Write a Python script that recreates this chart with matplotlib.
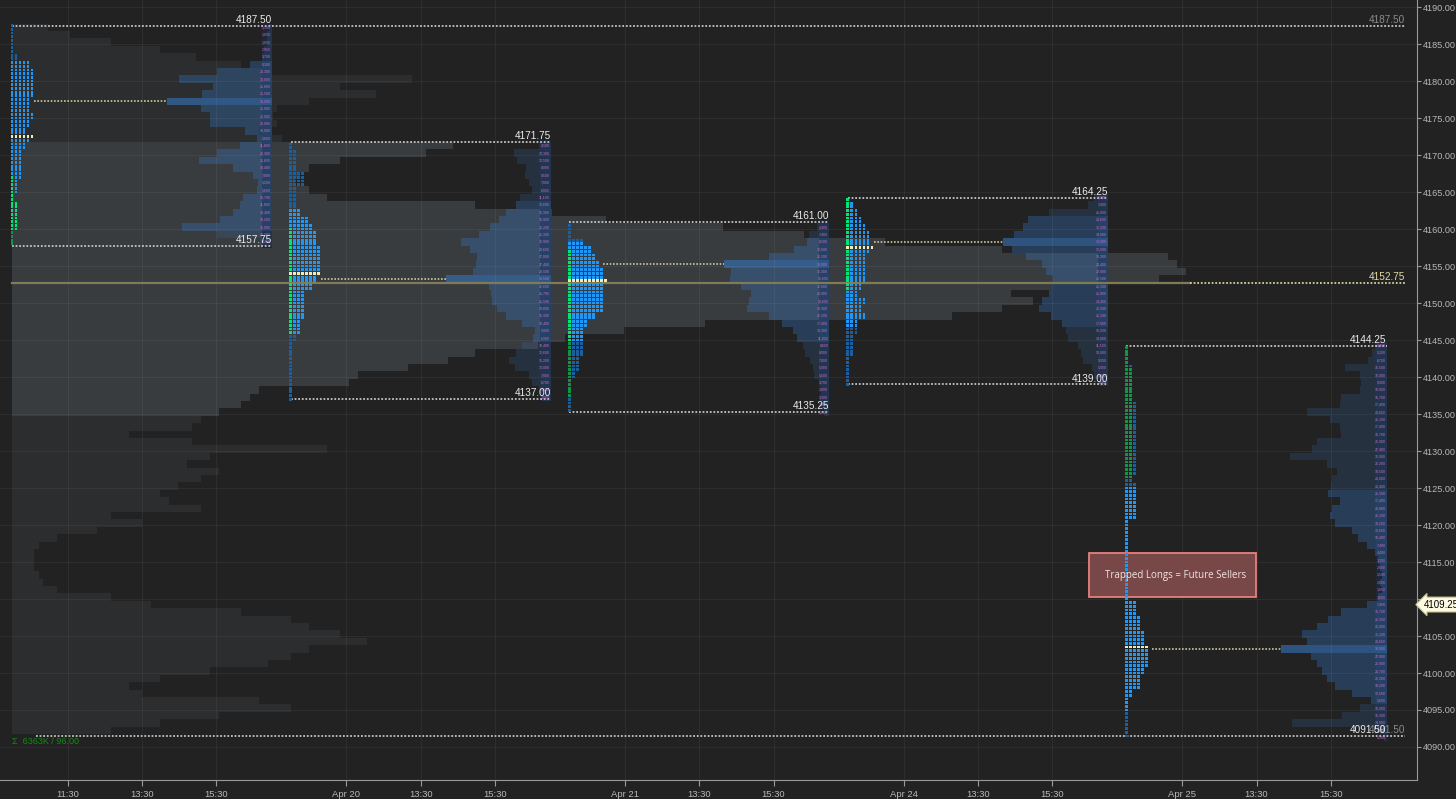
import matplotlib
matplotlib.use("Agg")
import matplotlib.pyplot as plt
from matplotlib import font_manager
from matplotlib.patches import Rectangle

# ---------------- data ----------------
# x = trading hours counted from the first session open; each session is 7.5 h
x_ticks = [1.5, 3.5, 5.5, 9.0, 11.0, 13.0, 16.5, 18.5, 20.5, 24.0, 26.0, 28.0, 31.5, 33.5, 35.5]
x_labels = ["11:30", "13:30", "15:30", "Apr 20", "13:30", "15:30", "Apr 21", "13:30", "15:30",
            "Apr 24", "13:30", "15:30", "Apr 25", "13:30", "15:30"]
y_ticks = [4090, 4095, 4100, 4105, 4110, 4115, 4120, 4125, 4130, 4135, 4140,
           4145, 4150, 4155, 4160, 4165, 4170, 4175, 4180, 4185, 4190]

day_start = [0.0, 7.5, 15.0, 22.5, 30.0]
day_high = [4187.50, 4171.75, 4161.00, 4164.25, 4144.25]
day_low = [4157.75, 4137.00, 4135.25, 4139.00, 4091.50]
tpo_poc = [4172.5, 4154.0, 4153.0, 4157.5, 4103.5]
tpo_poc_n = [6, 8, 10, 7, 6]
tpo_va = [(4160.0, 4182.5), (4146.0, 4162.5), (4145.0, 4158.0), (4147.0, 4164.25), (4095.0, 4125.0)]
vol_va = [(4160, 4182), (4145, 4163), (4145, 4158), (4147, 4161), (4096, 4124)]
# first-period (green) prints: (column, low, high)
tpo_green = [[(0, 4157.75, 4167.0), (1, 4159.5, 4163.5)],
             [(0, 4146.0, 4160.0)],
             [(0, 4137.5, 4157.0)],
             [(0, 4152.0, 4164.25)],
             [(0, 4126.5, 4144.25), (1, 4126.5, 4141.0)]]

# lowest whole-point level of each session (lists below go upward 1 pt per entry)
level_base = [4158, 4137, 4135, 4139, 4091]

tpo_apr19 = [1, 1, 2, 2, 2, 2, 1, 2, 2, 3, 3, 3, 3, 4, 5, 4, 5, 6, 5, 5, 6, 6, 6, 6, 5, 2, 1, 1, 1, 1]
tpo_apr20 = [1, 1, 1, 1, 1, 1, 1, 1, 2, 3, 3, 4, 4, 4, 4, 6, 7, 8, 8, 8, 8, 7, 7, 6, 5, 3, 2, 2, 2,
             4, 4, 2, 2, 2, 1]
tpo_apr21 = [1, 1, 1, 1, 1, 2, 3, 3, 4, 4, 4, 4, 5, 7, 9, 9, 9, 9, 9, 9, 8, 7, 6, 4, 1, 1]
tpo_apr24 = [1, 1, 1, 1, 2, 2, 2, 3, 3, 5, 4, 5, 3, 4, 5, 5, 5, 5, 6, 6, 6, 5, 4, 3, 2, 1]
tpo_apr25 = [1, 1, 1, 1, 1, 1, 2, 4, 4, 5, 6, 6, 6, 5, 5, 4, 4, 3, 3,
             1, 1, 1, 1, 1, 1, 1, 1, 1, 1, 1,
             3, 3, 3, 3, 3, 2, 3, 3, 3, 3, 3, 3, 3, 3, 3, 3, 2, 2, 2, 2, 2, 1, 1, 1]

vol_apr19 = [4400, 20300, 32900, 19200, 14400, 11800, 10700, 5600, 5200, 7000, 14400, 26600, 20300,
             11800, 5600, 10000, 22900, 22900, 25900, 38500, 25500, 21800, 34000, 20300, 8100, 3700,
             2950, 1850, 1850, 1100]
vol_apr20 = [3000, 4100, 6700, 7800, 13000, 15200, 12600, 10400, 6300, 5900, 10400, 16300, 19800,
             21500, 21700, 22600, 38500, 28500, 27400, 27000, 29600, 32900, 26300, 22200, 18900,
             16300, 12600, 11100, 6900, 7800, 9500, 8900, 12500, 13300, 4100]
vol_apr21 = [1850, 3000, 3300, 3000, 3700, 5600, 5900, 7000, 8900, 9600, 11800, 13300, 17400, 22200,
             30300, 29600, 28900, 32600, 36600, 36300, 38900, 22200, 13000, 8100, 7400, 4400]
vol_apr24 = [3000, 5200, 5900, 9300, 10000, 11100, 14800, 15500, 17000, 21100, 25500, 24400, 21800,
             21100, 20500, 22900, 24400, 30300, 35500, 38900, 34800, 31500, 29600, 21800, 7400, 5200]
vol_apr25 = [1100, 2600, 34800, 16300, 10000, 5600, 12600, 19200, 22200, 23700,
             25900, 27800, 38900, 29600, 31100, 25900, 21500, 16700, 7400, 3000,
             1850, 2600, 1500, 2600, 3300, 4400, 7400, 10400, 12600, 19200,
             21100, 20000, 17400, 21500, 20400, 20000, 18500, 22200, 35900, 27400,
             25900, 16700, 17400, 21100, 29600, 17400, 16700, 10000, 9300, 10000,
             15500, 6700, 5200, 4400]

tpo_days = [tpo_apr19, tpo_apr20, tpo_apr21, tpo_apr24, tpo_apr25]
vol_days = [vol_apr19, vol_apr20, vol_apr21, vol_apr24, vol_apr25]

# composite profile (K contracts), 4092 .. 4187
comp_base = 4092
comp_vol = [22, 33, 46, 62, 55, 29, 26, 33, 44, 57,
            62, 66, 79, 73, 66, 62, 51, 31, 22, 10,
            7, 6, 5, 5, 5, 6, 10, 19, 29, 22,
            42, 35, 33, 37, 42, 46, 39, 44, 70, 40,
            26, 40, 42, 46, 51, 53, 55, 75, 77, 88,
            97, 103, 117, 123, 136, 154, 209, 220, 227, 222,
            231, 255, 261, 259, 257, 220, 194, 176, 158, 132,
            120, 103, 70, 66, 63, 64, 66, 73, 92, 98,
            60, 55, 59, 58, 59, 66, 81, 73, 89, 57,
            51, 41, 33, 22, 13, 8]
comp_va = (4135, 4171)

naked_poc = 4152.75
last_price = 4109.25

# ---------------- style ----------------
BG = "#222222"
PROFILE_H = 7.0        # width of one session's profile box (hours)
TPO_STEP = 0.108       # hours between TPO columns
VOL_MAX_H = 2.83       # hours for the biggest volume bar
COMP_MAX_H = 31.6      # hours for the biggest composite bar
LBL = 7.2              # label font size

names = {f.name for f in font_manager.fontManager.ttflist}
NARROW = "Liberation Sans Narrow" if "Liberation Sans Narrow" in names else "Liberation Sans"

fig = plt.figure(figsize=(14.56, 7.99), dpi=100, facecolor=BG)
ax = fig.add_axes([0, 1 - 780 / 799, 1417 / 1456, 780 / 799])
ax.set_facecolor(BG)
ax.set_xlim(-0.323, 37.82)
ax.set_ylim(4085.54, 4190.95)

# composite profile
cmax = max(comp_vol)
for i, v in enumerate(comp_vol):
    p = comp_base + i
    col = "#393c3f" if comp_va[0] <= p <= comp_va[1] else "#2b2d2f"
    ax.barh(p + 0.25, v / cmax * COMP_MAX_H, left=0, height=1.0, color=col, lw=0, zorder=1)

# grid on top of the gray profile
for xt in x_ticks:
    ax.axvline(xt, color="white", alpha=0.05, lw=0.8, zorder=3.4)
for yt in y_ticks:
    ax.axhline(yt, color="white", alpha=0.05, lw=0.8, zorder=3.4)

dot_x, dot_y, dot_c = [], [], []
for d in range(5):
    s0 = day_start[d]
    R = s0 + PROFILE_H
    lo, hi = day_low[d], day_high[d]
    base = level_base[d]
    vols = vol_days[d]
    tpos = tpo_days[d]

    # volume profile, anchored right
    ax.add_patch(Rectangle((R - 0.28, lo - 0.25), 0.28, hi - lo + 0.5, color="#1d2736", lw=0, zorder=1.5))
    vmax = max(vols)
    for i, v in enumerate(vols):
        p = base + i
        w = v / vmax * VOL_MAX_H
        if v == vmax:
            a = 0.62
        elif vol_va[d][0] <= p <= vol_va[d][1]:
            a = 0.36
        else:
            a = 0.2
        ax.barh(p + 0.25, w, left=R - w, height=1.0, color="#3572b8", alpha=a, lw=0, zorder=2)
        ax.text(R - 0.03, p + 0.25, f"{v:,}", ha="right", va="center", fontsize=2.5,
                color="#c86ec8", family=NARROW, zorder=6)

    # volume POC extension
    ip = vols.index(vmax)
    ax.plot([s0 + tpos[ip] * TPO_STEP + 0.05, R - VOL_MAX_H], [base + ip + 0.25] * 2,
            color="#cfc79a", ls=(0, (1, 1)), lw=1.2, zorder=4)

    # TPO dots
    for i, n in enumerate(tpos):
        for row in (base + i, base + i + 0.5):
            if row < lo - 0.01 or row > hi + 0.01:
                continue
            if row == tpo_poc[d]:
                for j in range(tpo_poc_n[d]):
                    dot_x.append(s0 + j * TPO_STEP)
                    dot_y.append(row)
                    dot_c.append("#f3ebb2")
                continue
            in_va = tpo_va[d][0] <= row <= tpo_va[d][1]
            for j in range(n):
                green = any(c == j and g0 <= row <= g1 for c, g0, g1 in tpo_green[d])
                if green:
                    col = "#00e676" if in_va else "#12924a"
                else:
                    col = "#2196f3" if in_va else "#1b5f9f"
                dot_x.append(s0 + j * TPO_STEP)
                dot_y.append(row)
                dot_c.append(col)

    # session high / low
    x_hi0, x_hi1 = s0, R
    x_lo0, x_lo1 = s0, R
    if d == 0:
        x_hi1 = 37.5
    if d == 4:
        x_lo0, x_lo1 = 0.65, 37.5
    ax.plot([x_hi0, x_hi1], [hi, hi], color="#c4c4c4", ls=(0, (1, 1)), lw=1.3, zorder=4)
    ax.plot([x_lo0, x_lo1], [lo, lo], color="#c4c4c4", ls=(0, (1, 1)), lw=1.3, zorder=4)
    ax.text(R, hi + 0.12, f"{hi:.2f}", ha="right", va="bottom", fontsize=LBL, color="#ececec",
            family=NARROW, zorder=6)
    ax.text(R, lo + 0.12, f"{lo:.2f}", ha="right", va="bottom", fontsize=LBL, color="#ececec",
            family=NARROW, zorder=6)

# naked POC line
ax.plot([0, 31.7], [naked_poc] * 2, color="#7f7b55", lw=1.6, zorder=3.6)
ax.plot([31.7, 37.5], [naked_poc] * 2, color="#d6cf9c", ls=(0, (1, 1)), lw=1.3, zorder=3.6)
ax.text(37.5, naked_poc + 0.12, f"{naked_poc:.2f}", ha="right", va="bottom", fontsize=LBL,
        color="#e2d9a4", family=NARROW, zorder=6)
ax.text(37.5, day_high[0] + 0.12, f"{day_high[0]:.2f}", ha="right", va="bottom", fontsize=LBL,
        color="#8a8a8a", family=NARROW, zorder=6)
ax.text(37.5, day_low[4] + 0.12, f"{day_low[4]:.2f}", ha="right", va="bottom", fontsize=LBL,
        color="#8a8a8a", family=NARROW, zorder=5.9)

# annotation
ax.add_patch(Rectangle((28.99, 4110.27), 4.5, 5.95, fc="#784848", ec="#e8807c", lw=1.3, zorder=4.5))
ax.text(31.33, 4113.24, "Trapped Longs = Future Sellers", ha="center", va="center", fontsize=7,
        color="#f2e4e4", family="Open Sans", zorder=6)

ax.scatter(dot_x, dot_y, s=4.0, marker="s", c=dot_c, linewidths=0, zorder=5)

ax.text(0, 4090.7, "\u03a3  6363K / 96.00", ha="left", va="center", fontsize=6.5,
        color="#128a12", family=NARROW, zorder=6)

# axes
for side in ("top", "left"):
    ax.spines[side].set_visible(False)
for side in ("right", "bottom"):
    ax.spines[side].set_color("#9a9a9a")
ax.yaxis.tick_right()
ax.set_yticks(y_ticks)
ax.set_yticklabels([f"{t:.2f}" for t in y_ticks])
ax.set_xticks(x_ticks)
ax.set_xticklabels(x_labels)
ax.tick_params(axis="y", colors="#9a9a9a", labelcolor="#b8b8b8", length=3, pad=1.5, labelsize=6.6)
ax.tick_params(axis="x", colors="#9a9a9a", labelcolor="#b8b8b8", length=4, pad=3, labelsize=6.8)
for lab in ax.get_xticklabels() + ax.get_yticklabels():
    lab.set_family(NARROW)

ax.annotate(f"{last_price:.2f}", xy=(1.0, last_price), xycoords=ax.get_yaxis_transform(),
            xytext=(5, 0), textcoords="offset points", ha="left", va="center", fontsize=7,
            color="black", family=NARROW,
            bbox=dict(boxstyle="larrow,pad=0.25", fc="#fffbe3", ec="#c9c08a", lw=0.8),
            annotation_clip=False, zorder=10)

fig.savefig("out.png", dpi=100, facecolor=BG)
